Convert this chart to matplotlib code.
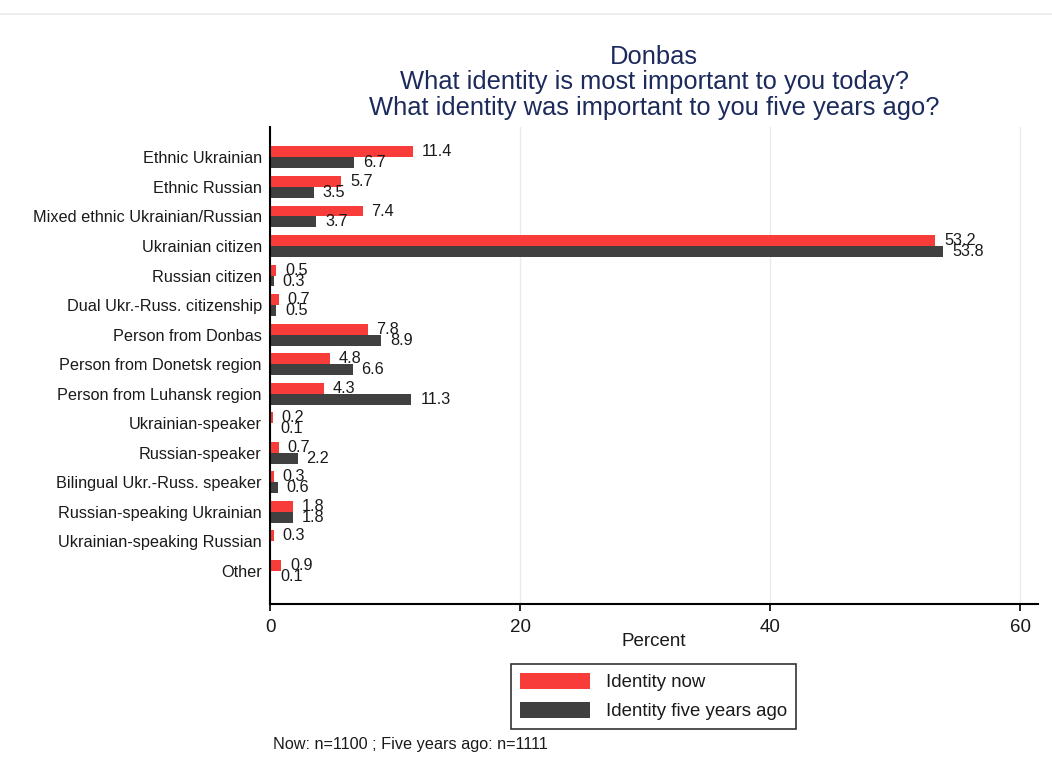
import numpy as np
import matplotlib
matplotlib.use("Agg")
import matplotlib.pyplot as plt
from matplotlib.lines import Line2D

plt.rcParams['font.family'] = ['Liberation Sans', 'DejaVu Sans']

categories = ["Ethnic Ukrainian", "Ethnic Russian", "Mixed ethnic Ukrainian/Russian",
              "Ukrainian citizen", "Russian citizen", "Dual Ukr.-Russ. citizenship",
              "Person from Donbas", "Person from Donetsk region", "Person from Luhansk region",
              "Ukrainian-speaker", "Russian-speaker", "Bilingual Ukr.-Russ. speaker",
              "Russian-speaking Ukrainian", "Ukrainian-speaking Russian", "Other"]
now = [11.4, 5.7, 7.4, 53.2, 0.5, 0.7, 7.8, 4.8, 4.3, 0.2, 0.7, 0.3, 1.8, 0.3, 0.9]
ago = [6.7, 3.5, 3.7, 53.8, 0.3, 0.5, 8.9, 6.6, 11.3, 0.1, 2.2, 0.6, 1.8, np.nan, 0.1]

red = '#f83c3a'
dark = '#404040'
navy = '#1c2a5c'

fig = plt.figure(figsize=(10.52, 7.73), dpi=100)
ax = fig.add_axes([270/1052, 1-604/773, 768/1052, 477/773])

y = np.arange(len(categories))
h = 0.37
ax.barh(y - h/2, now, height=h, color=red, label='Identity now')
ago_arr = np.array(ago)
ok = ~np.isnan(ago_arr)
ax.barh(y[ok] + h/2, ago_arr[ok], height=h, color=dark, label='Identity five years ago')

# value labels (they overlap for tiny bars, as in the original)
for i in range(len(categories)):
    ax.annotate(f"{now[i]:.1f}", (now[i], y[i] - h/2), xytext=(6.5, 0),
                textcoords='offset points', va='center', ha='left', fontsize=11.7, color='#1a1a1a')
    if ok[i]:
        ax.annotate(f"{ago[i]:.1f}", (ago[i], y[i] + h/2), xytext=(6.5, 0),
                    textcoords='offset points', va='center', ha='left', fontsize=11.7, color='#1a1a1a')

ax.set_xlim(0, 61.4)
ax.set_ylim(14 + 1.12, -1.03)
ax.set_yticks(y)
ax.set_yticklabels(categories, fontsize=11.7, color='#1a1a1a')
ax.tick_params(axis='y', length=0, pad=6)
ax.set_xticks([0, 20, 40, 60])
ax.tick_params(axis='x', length=5, width=1.2, labelsize=13.5, labelcolor='#1a1a1a', pad=6)
ax.set_xlabel('Percent', fontsize=13.5, color='#1a1a1a', labelpad=-2)
ax.xaxis.grid(True, color='#e6edf1', linewidth=1)
ax.set_axisbelow(True)
for s in ['top', 'right']:
    ax.spines[s].set_visible(False)
ax.spines['left'].set_linewidth(1.5)
ax.spines['bottom'].set_linewidth(1.5)

# title lines
cx = 654/1052
fig.text(cx, 1-64/773, "Donbas", ha='center', va='baseline', fontsize=18.4, color=navy)
fig.text(cx, 1-89/773, "What identity is most important to you today?", ha='center', va='baseline', fontsize=18.4, color=navy)
fig.text(cx, 1-115/773, "What identity was important to you five years ago?", ha='center', va='baseline', fontsize=18.4, color=navy)

leg = fig.legend(loc='center', bbox_to_anchor=(653.5/1052, 1-696.5/773), fontsize=13.4,
                 frameon=True, fancybox=False, edgecolor='black', handlelength=3.76,
                 handleheight=1.0, handletextpad=0.9, borderpad=0.45, labelspacing=0.55,
                 borderaxespad=0)
leg.get_frame().set_linewidth(1.2)
for t in leg.get_texts():
    t.set_color('#1a1a1a')

fig.text(273/1052, 1-745/773, "Now: n=1100 ; Five years ago: n=1111", ha='left', va='center',
         fontsize=11.7, color='#1a1a1a')

fig.add_artist(Line2D([0, 1], [1-14/773, 1-14/773], color='#ebebeb', linewidth=1.2))

fig.savefig('out.png', dpi=100)
